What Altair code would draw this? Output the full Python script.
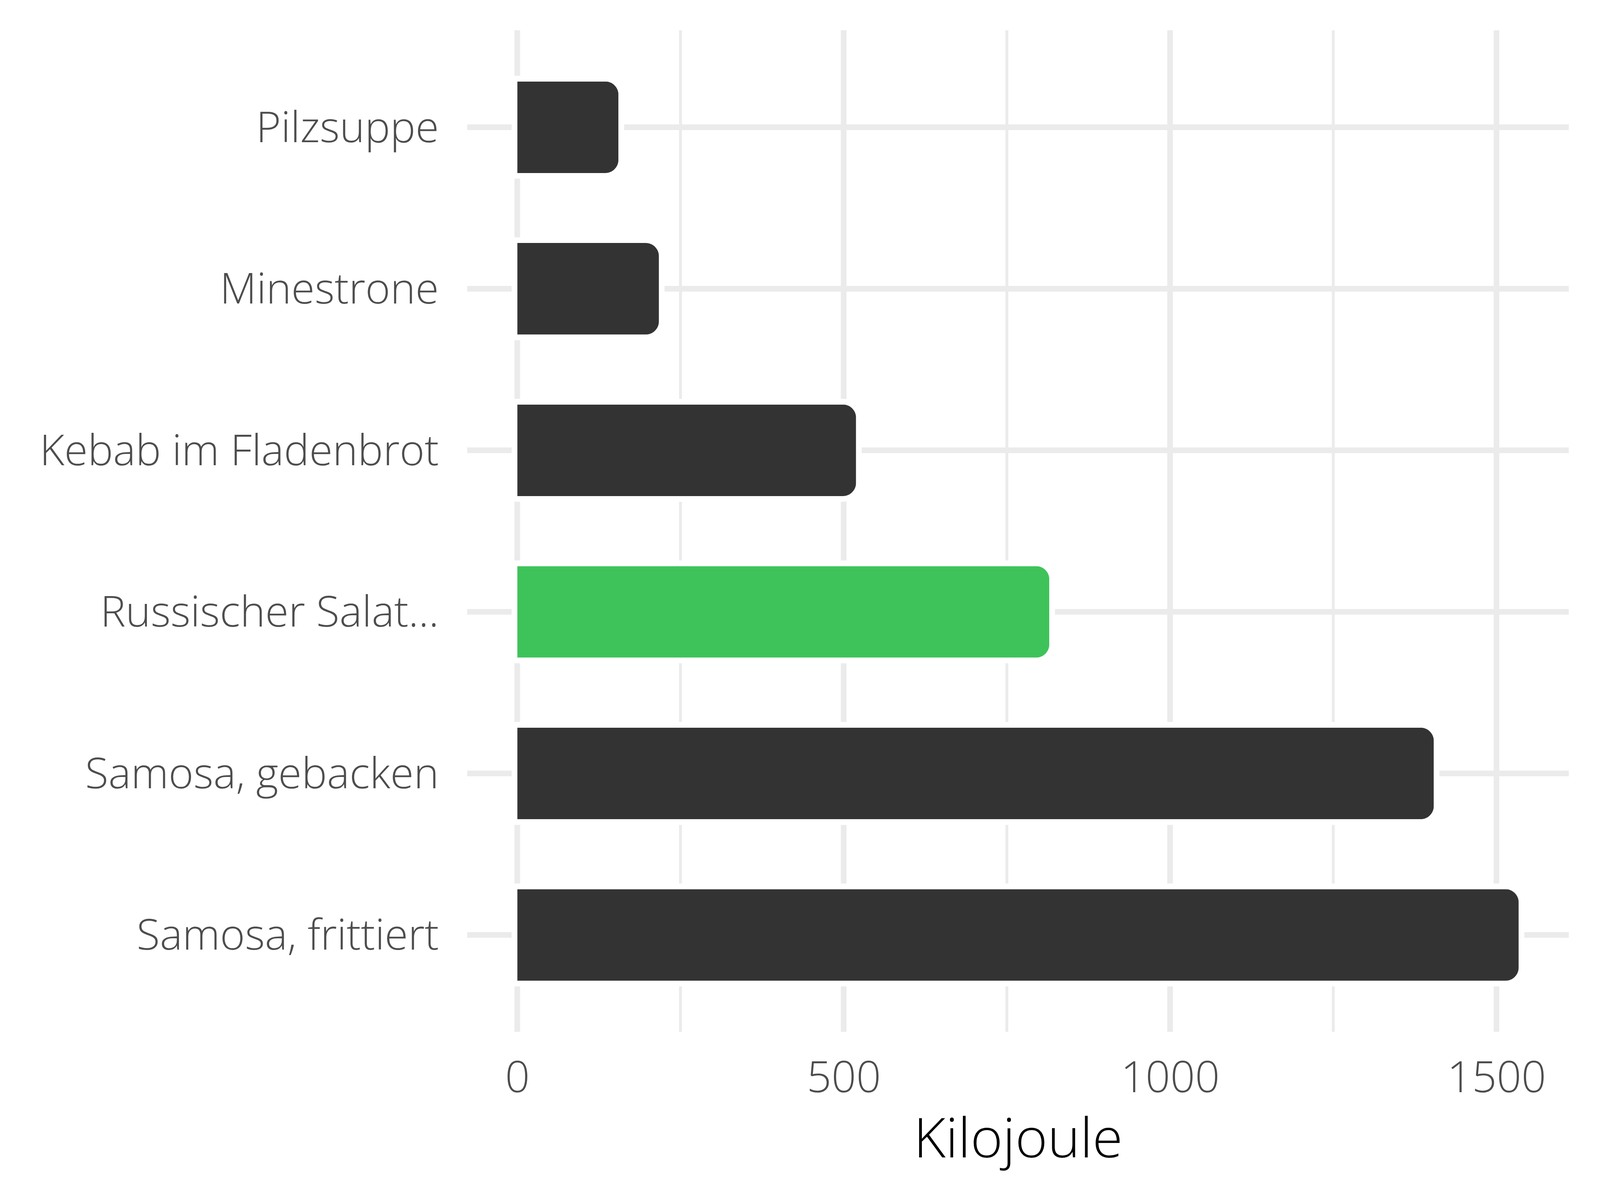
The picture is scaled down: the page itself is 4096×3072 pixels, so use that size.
import altair as alt
import pandas as pd

categories = ["Pilzsuppe", "Minestrone", "Kebab im Fladenbrot", "Russischer Salat...",
              "Samosa, gebacken", "Samosa, frittiert"]
values = [155, 217, 519, 815, 1404, 1534]
colors = ["#333333", "#333333", "#333333", "#3ec35a", "#333333", "#333333"]
major_ticks = [0, 500, 1000, 1500]
minor_ticks = [250, 750, 1250]

df = pd.DataFrame({"name": categories, "kj": values, "color": colors})
major_df = pd.DataFrame({"v": major_ticks})
minor_df = pd.DataFrame({"v": minor_ticks})
cat_df = pd.DataFrame({"name": categories})

FONT = "Open Sans"
xscale = alt.Scale(domain=[-76.7, 1610.7], nice=False, zero=False)
yscale = alt.Scale(domain=categories, paddingInner=0, paddingOuter=0.1)

x_axis = alt.Axis(values=major_ticks, format="d", grid=False, domain=False, ticks=False,
                  labelFontSize=111, labelColor="#4d4d4d", labelFont=FONT,
                  labelFontWeight=300, labelPadding=66, labelLimit=2000,
                  title="Kilojoule", titleFontSize=141, titleColor="#000000",
                  titleFont=FONT, titleFontWeight=300, titlePadding=34)
y_axis = alt.Axis(grid=False, domain=False, ticks=False, labelFontSize=109,
                  labelColor="#4d4d4d", labelFont=FONT, labelFontWeight=300,
                  labelPadding=73, labelOffset=5, title=None, labelLimit=2000)

X = lambda f: alt.X(f, scale=xscale, axis=x_axis, title="Kilojoule")
Y = lambda f: alt.Y(f, scale=yscale, axis=y_axis, sort=categories, title=None)

minor = alt.Chart(minor_df).mark_rule(color="#ebebeb", strokeWidth=7.3).encode(
    x=X("v:Q"))
major = alt.Chart(major_df).mark_rule(color="#ebebeb", strokeWidth=14.5).encode(
    x=X("v:Q"))
hgrid = alt.Chart(cat_df).mark_rule(color="#ebebeb", strokeWidth=14.5).encode(
    y=Y("name:N"))

outline = alt.Chart(df).mark_bar(
    color="white", stroke="white", strokeWidth=29, cornerRadiusEnd=34,
    height=alt.RelativeBandSize(0.567)).encode(
    x=X("kj:Q"), y=Y("name:N"))

bars = alt.Chart(df).mark_bar(
    cornerRadiusEnd=34, height=alt.RelativeBandSize(0.567)).encode(
    x=X("kj:Q"), y=Y("name:N"),
    color=alt.Color("color:N", scale=None, legend=None))

chart = alt.layer(minor, major, hgrid, outline, bars).properties(
    width=2820, height=2564,
    background="white",
    autosize=alt.AutoSizeParams(type="none"),
    padding={"left": 1188, "top": 69.6, "right": 60, "bottom": 400},
).configure_view(stroke=None, strokeWidth=0)

chart.save("out.html", embed_options={"renderer": "svg", "actions": False})
